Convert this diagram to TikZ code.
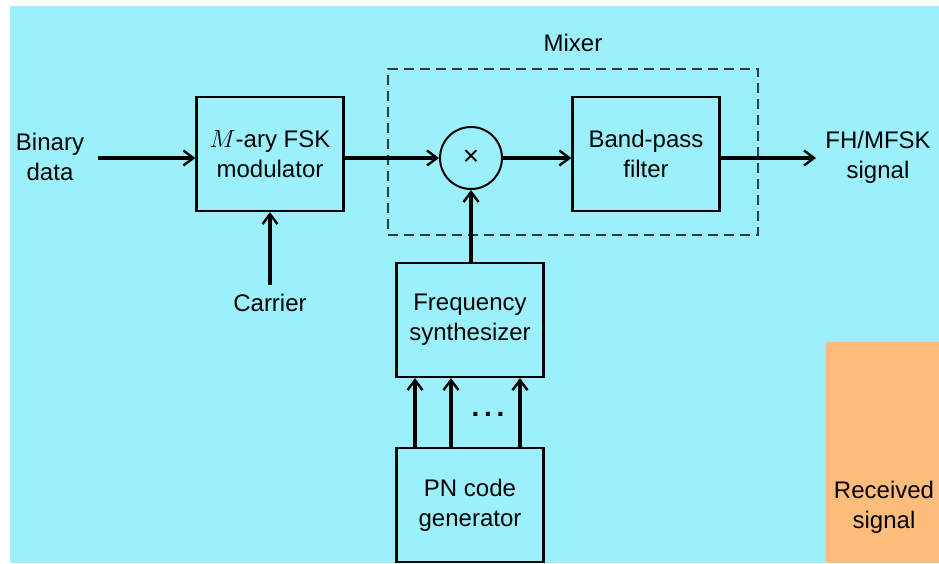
\documentclass[tikz,border=0pt]{standalone}
\usepackage{fontspec}
\setmainfont{Liberation Sans}
\usetikzlibrary{positioning,arrows.meta,calc}
\definecolor{bgBlue}{RGB}{155,240,252}
\definecolor{bgOrange}{RGB}{253,188,122}
\definecolor{dashGray}{RGB}{45,60,65}
\tikzset{
    base/.style={font=\fontsize{24}{30}\selectfont, align=center},
    block/.style={base, rectangle, draw=black, line width=2.2pt,
                  minimum width=147pt, minimum height=114pt, inner sep=0pt},
    multiplier/.style={circle, draw=black, line width=2pt, minimum size=62pt, inner sep=0pt},
    mixbox/.style={rectangle, draw=dashGray, line width=2.2pt, dash pattern=on 10pt off 6pt,
                   minimum width=370pt, minimum height=166pt, inner sep=0pt},
    flow/.style={-{Straight Barb[length=10pt,width=15pt,line width=2.4pt]}, line width=3.4pt},
    label/.style={base, inner sep=0pt}
}

\begin{document}
\begin{tikzpicture}[x=1pt,y=-1pt]
  % Background
  \useasboundingbox (0,0) rectangle (939,563);
  \fill[white] (0,0) rectangle (939,563);
  \fill[bgBlue] (10,6) rectangle (939,563);
  \fill[bgOrange] (826,342) rectangle (939,563);

  % Blocks
  \node[mixbox] (mixer) at (573,152) {};
  \node[label, above=16pt of mixer] (mixlabel) {Mixer};
  \node[block] (modulator) at (270,154) {$M$-ary FSK\\modulator};
  \node[multiplier] (mul) at (471,158) {\fontsize{28}{28}\selectfont ×};
  \node[block] (bpf) at (646,154) {Band-pass\\filter};
  \node[block] (freqsyn) at (470,320) {Frequency\\synthesizer};
  \node[block] (pngen) at (470,505) {PN code\\generator};

  % Labels
  \node[label] (binary) at (50,157) {Binary\\data};
  \node[label] (carrier) at (270,303) {Carrier};
  \node[label] (fhout) at (878,157) {FH/MFSK\\signal};
  \node[label] (received) at (884,507) {Received\\signal};
  \node[label] (dots) at (488,414) {\fontsize{28}{28}\selectfont\bfseries .\,.\,.};
  \coordinate (out) at (816,158);

  % Connections
  \draw[flow] ([xshift=14pt]binary.east |- mul.west) -- (modulator.west |- mul.west);
  \draw[flow] (modulator.east |- mul.west) -- (mul.west);
  \draw[flow] (mul.east) -- (bpf.west |- mul.east);
  \draw[flow] (bpf.east |- mul.east) -- (out);
  \draw[flow] ([yshift=9pt]carrier.north) -- (modulator.south);
  \draw[flow] (freqsyn.north -| mul.south) -- (mul.south);
  \foreach \px in {415,451,520}
    \draw[flow] (pngen.north -| \px,0) -- (freqsyn.south -| \px,0);
\end{tikzpicture}
\end{document}
